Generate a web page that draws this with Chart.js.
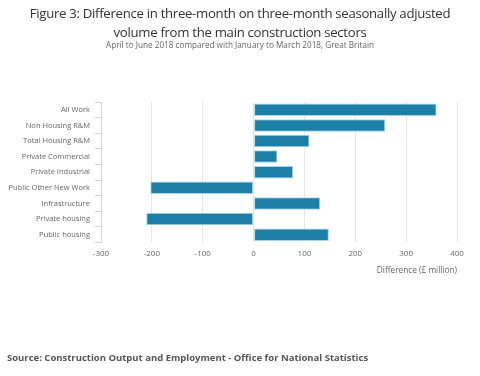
<!DOCTYPE html>
<html>
<head>
<meta charset="utf-8">
<script src="https://cdn.jsdelivr.net/npm/chart.js@4"></script>
<style>
  body { margin: 0; background: #fff; }
  #wrap { position: relative; width: 480px; height: 376px; font-family: "Open Sans", sans-serif; }
  canvas { position: absolute; left: 0; top: 0; }
  #title {
    position: absolute; left: 0; top: 4px; width: 480px; text-align: center;
    font-size: 13.2px; line-height: 19px; letter-spacing: -0.3px; color: #333;
  }
  #subtitle {
    position: absolute; left: 0; top: 40px; width: 480px; text-align: center;
    font-size: 8.2px; line-height: 10px; color: #666;
  }
  #source {
    position: absolute; left: 7px; top: 351px;
    font-size: 9.5px; font-weight: bold; color: #555;
  }
</style>
</head>
<body>
<div id="wrap">
  <canvas id="grafico" width="480" height="376"></canvas>
  <div id="title">Figure 3: Difference in three-month on three-month seasonally adjusted<br>volume from the main construction sectors</div>
  <div id="subtitle">April to June 2018 compared with January to March 2018, Great Britain</div>
  <div id="source">Source: Construction Output and Employment - Office for National Statistics</div>
</div>
<script>
// sectors, top to bottom
var categories = ['All Work', 'Non Housing R&M', 'Total Housing R&M', 'Private Commercial',
  'Private Industrial', 'Public Other New Work', 'Infrastructure', 'Private housing', 'Public housing'];
// difference, £ million
var values = [360, 259, 110, 47, 78, -203, 131, -211, 148];

var font = '"Open Sans", sans-serif';

var data = {
  labels: categories,
  datasets: [{
    data: values,
    backgroundColor: '#1b7fa8',
    borderColor: '#a9d3e6',
    borderWidth: 1,
    borderSkipped: false,
    barPercentage: 0.8,
    categoryPercentage: 1
  }]
};

var options = {
  indexAxis: 'y',
  responsive: false,
  animation: false,
  layout: { padding: { left: 0, right: 23, top: 102, bottom: 100 } },
  plugins: {
    legend: { display: false },
    tooltip: { enabled: false }
  },
  scales: {
    x: {
      min: -300,
      max: 400,
      ticks: { stepSize: 100, color: '#666', font: { family: font, size: 8 }, padding: 6 },
      grid: { color: '#e6e6e6', drawTicks: false },
      border: { display: false },
      title: {
        display: true,
        text: 'Difference (£ million)',
        align: 'end',
        color: '#666',
        font: { family: font, size: 8.3 },
        padding: { top: 2, bottom: 0 }
      }
    },
    y: {
      afterFit: function (scale) { scale.width = 101; },
      ticks: { color: '#666', font: { family: font, size: 7.5 }, padding: 5, autoSkip: false },
      grid: { drawOnChartArea: false, color: '#ccd6eb', tickLength: 6 },
      border: { color: '#ccd6eb' }
    }
  }
};

var ctx = document.querySelector('#grafico').getContext('2d');
var barChart = new Chart(ctx, {
  type: 'bar',
  data: data,
  options: options
});
</script>
</body>
</html>
